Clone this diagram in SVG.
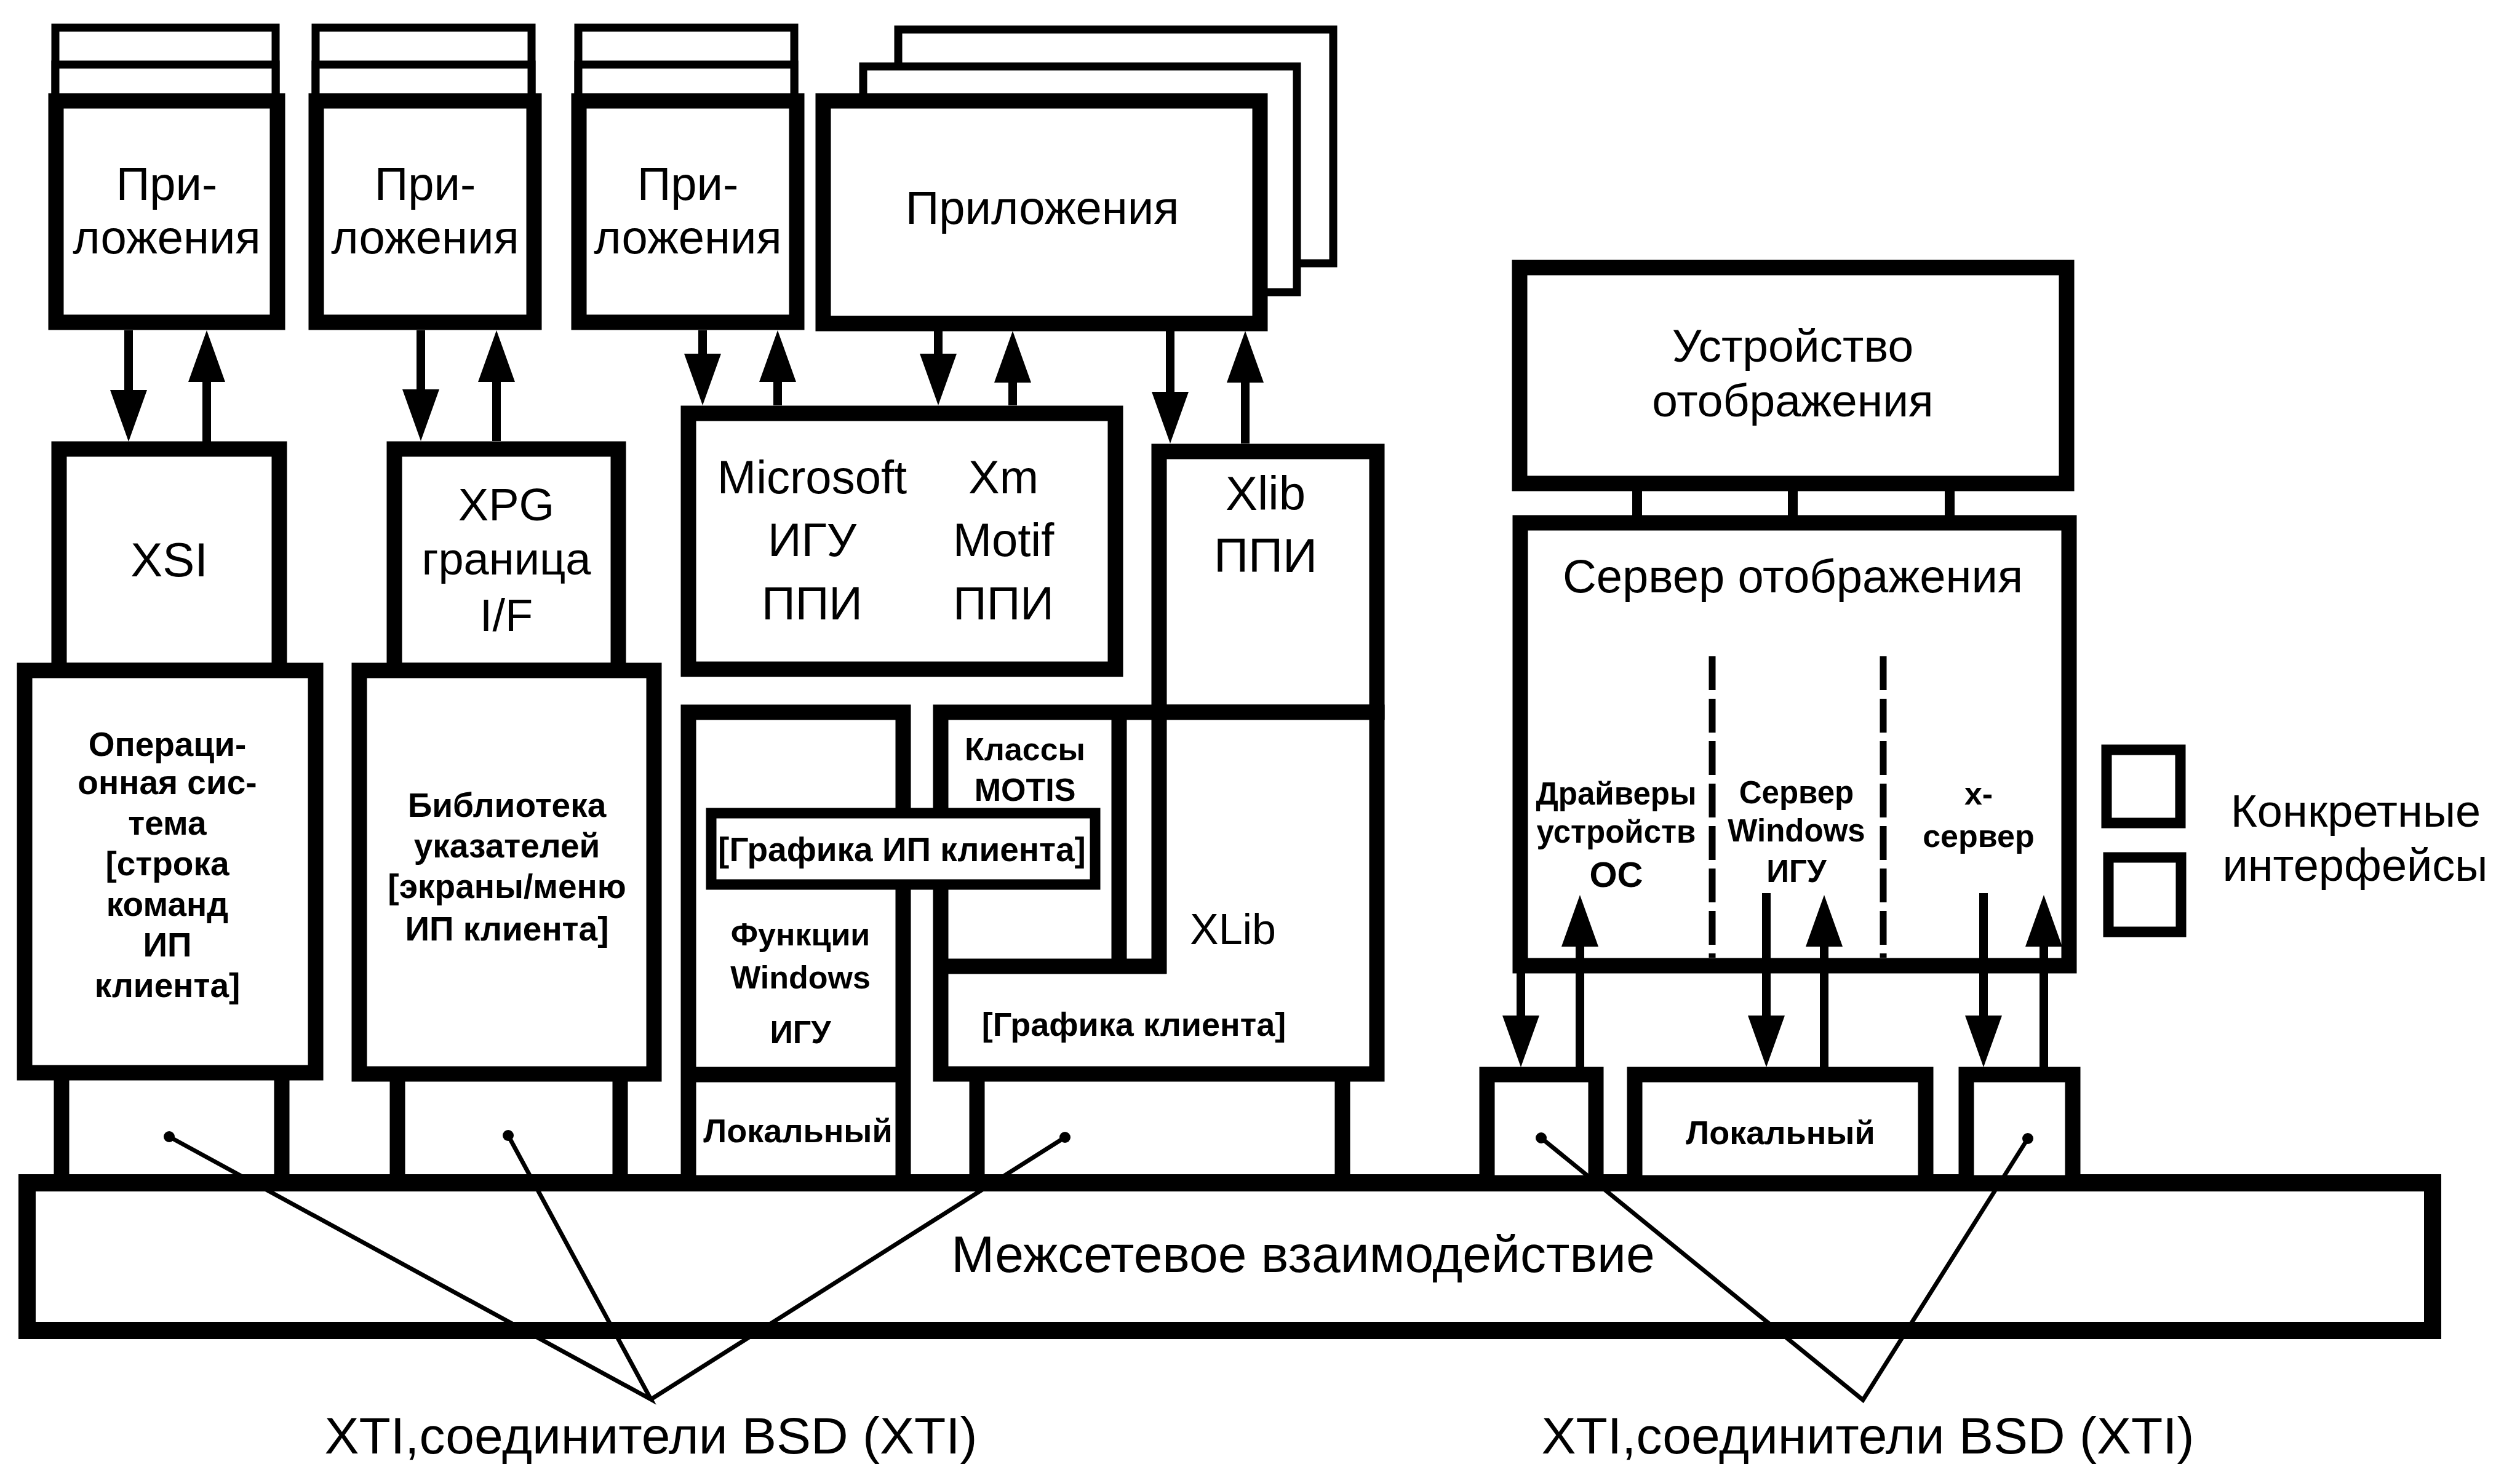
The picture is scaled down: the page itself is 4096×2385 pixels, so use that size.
<svg xmlns="http://www.w3.org/2000/svg" width="4096" height="2385" viewBox="0 0 4096 2385">
<style>
.b{fill:#fff;stroke:#000;stroke-width:25}
.s{fill:#fff;stroke:#000;stroke-width:13}
.ln{fill:none;stroke:#000;stroke-width:25}
.cn{fill:none;stroke:#000;stroke-width:16}
.a{fill:none;stroke:#000;stroke-width:14;marker-end:url(#ah)}
.th{fill:none;stroke:#000;stroke-width:7}
.dash{fill:none;stroke:#000;stroke-width:11;stroke-dasharray:55 14}
.lg{fill:#fff;stroke:#000;stroke-width:17}
text{font-family:"Liberation Sans",Arial,sans-serif;font-size:76px;text-anchor:middle;fill:#000}
.sm{font-size:55px;font-weight:bold}
</style>
<defs>
<marker id="ah" markerUnits="userSpaceOnUse" markerWidth="84" markerHeight="60" refX="44" refY="30" orient="auto">
<path d="M0,0 L84,30 L0,60 Z" fill="#000"/>
</marker>
</defs>
<rect width="4096" height="2385" fill="#fff"/>

<g id="network">
<rect class="b" x="44" y="1923" width="3910" height="240" style="stroke-width:28"/>
<text x="2118" y="2068" style="font-size:84px">Межсетевое взаимодействие</text>
</g>

<g id="app1">
<rect class="s" x="90" y="45" width="358" height="120"/>
<rect class="s" x="90" y="105" width="358" height="60"/>
<rect class="b" x="91" y="164" width="360" height="360"/>
<text x="271" y="325">При-</text>
<text x="271" y="412">ложения</text>
</g>
<g id="app2">
<rect class="s" x="513" y="45" width="351" height="120"/>
<rect class="s" x="513" y="105" width="351" height="60"/>
<rect class="b" x="514" y="164" width="354" height="360"/>
<text x="691" y="325">При-</text>
<text x="691" y="412">ложения</text>
</g>
<g id="app3">
<rect class="s" x="940" y="45" width="351" height="120"/>
<rect class="s" x="940" y="105" width="351" height="60"/>
<rect class="b" x="941" y="164" width="354" height="360"/>
<text x="1118" y="325">При-</text>
<text x="1118" y="412">ложения</text>
</g>
<g id="app4">
<rect class="s" x="1460" y="48" width="707" height="380"/>
<rect class="s" x="1403" y="108" width="705" height="367"/>
<rect class="b" x="1338" y="164" width="710" height="362"/>
<text x="1694" y="364">Приложения</text>
</g>

<g id="xsi">
<rect class="b" x="96" y="730" width="358" height="360"/>
<text x="275" y="937" style="font-size:78px">XSI</text>
</g>
<g id="xpg">
<rect class="b" x="641" y="730" width="364" height="360"/>
<text x="823" y="846" style="font-size:74px">XPG</text>
<text x="823" y="934" style="font-size:74px">граница</text>
<text x="823" y="1026" style="font-size:74px">I/F</text>
</g>
<g id="os">
<line class="ln" x1="100" y1="1744" x2="100" y2="1923"/>
<line class="ln" x1="458" y1="1744" x2="458" y2="1923"/>
<rect class="b" x="40" y="1090" width="473" height="654"/>
<text class="sm" x="272" y="1229">Операци-</text>
<text class="sm" x="272" y="1291">онная сис-</text>
<text class="sm" x="272" y="1357">тема</text>
<text class="sm" x="272" y="1423">[строка</text>
<text class="sm" x="272" y="1489">команд</text>
<text class="sm" x="272" y="1555">ИП</text>
<text class="sm" x="272" y="1621">клиента]</text>
</g>
<g id="lib">
<line class="ln" x1="646" y1="1746" x2="646" y2="1923"/>
<line class="ln" x1="1008" y1="1746" x2="1008" y2="1923"/>
<rect class="b" x="584" y="1090" width="479" height="656"/>
<text class="sm" x="824" y="1328">Библиотека</text>
<text class="sm" x="824" y="1394">указателей</text>
<text class="sm" x="824" y="1460">[экраны/меню</text>
<text class="sm" x="824" y="1529">ИП клиента]</text>
</g>

<g id="ms">
<rect class="b" x="1119" y="672" width="694" height="416"/>
<text x="1320" y="802">Microsoft</text>
<text x="1320" y="904">ИГУ</text>
<text x="1320" y="1007">ППИ</text>
<text x="1631" y="802">Xm</text>
<text x="1631" y="904">Motif</text>
<text x="1631" y="1007">ППИ</text>
</g>
<g id="xlibppi">
<rect class="b" x="1884" y="734" width="354" height="424"/>
<text x="2057" y="829" style="font-size:78px">Xlib</text>
<text x="2057" y="930" style="font-size:78px">ППИ</text>
</g>

<g id="winfunc">
<rect class="b" x="1119" y="1158" width="349" height="765"/>
<line class="ln" x1="1119" y1="1747" x2="1468" y2="1747"/>
<text class="sm" x="1301" y="1537" style="font-size:52px">Функции</text>
<text class="sm" x="1301" y="1607" style="font-size:52px">Windows</text>
<text class="sm" x="1301" y="1696" style="font-size:52px">ИГУ</text>
<text class="sm" x="1297" y="1857" style="font-size:54px">Локальный</text>
</g>

<g id="xlib">
<line class="ln" x1="1588" y1="1746" x2="1588" y2="1923"/>
<line class="ln" x1="2182" y1="1746" x2="2182" y2="1923"/>
<rect class="b" x="1529" y="1158" width="709" height="588"/>
<line class="ln" x1="1819" y1="1158" x2="1819" y2="1571"/>
<line class="ln" x1="1884" y1="1158" x2="1884" y2="1583"/>
<line class="ln" x1="1529" y1="1571" x2="1896" y2="1571"/>
<text class="sm" x="1666" y="1236" style="font-size:52px">Классы</text>
<text class="sm" x="1666" y="1302" style="font-size:52px">MOTIS</text>
<text x="2004" y="1535" style="font-size:70px">XLib</text>
<text class="sm" x="1843" y="1684" style="font-size:54px">[Графика клиента]</text>
</g>

<g id="gfx">
<rect class="lg" x="1156" y="1322" width="624" height="116"/>
<text class="sm" x="1466" y="1400">[Графика ИП клиента]</text>
</g>

<g id="display">
<rect class="b" x="2470" y="435" width="889" height="351"/>
<text x="2914" y="588" style="font-size:75px">Устройство</text>
<text x="2914" y="677" style="font-size:75px">отображения</text>
</g>
<g id="server">
<rect class="b" x="2471" y="850" width="892" height="720"/>
<text x="2914" y="963">Сервер отображения</text>
<line class="dash" x1="2783" y1="1067" x2="2783" y2="1557"/>
<line class="dash" x1="3061" y1="1067" x2="3061" y2="1557"/>
<text class="sm" x="2627" y="1308" style="font-size:51px">Драйверы</text>
<text class="sm" x="2627" y="1370" style="font-size:51px">устройств</text>
<text class="sm" x="2627" y="1442" style="font-size:58px">ОС</text>
<text class="sm" x="2920" y="1306" style="font-size:51px">Сервер</text>
<text class="sm" x="2920" y="1368" style="font-size:51px">Windows</text>
<text class="sm" x="2920" y="1434" style="font-size:51px">ИГУ</text>
<text class="sm" x="3216" y="1308" style="font-size:52px">x-</text>
<text class="sm" x="3216" y="1377" style="font-size:52px">сервер</text>
</g>

<g id="port1"><rect class="b" x="2417" y="1747" width="177" height="176"/></g>
<g id="local2">
<rect class="b" x="2657" y="1747" width="473" height="176"/>
<text class="sm" x="2894" y="1860" style="font-size:54px">Локальный</text>
</g>
<g id="port2"><rect class="b" x="3196" y="1747" width="173" height="176"/></g>

<g id="legend">
<rect class="lg" x="3424" y="1219" width="120" height="119"/>
<rect class="lg" x="3427" y="1394" width="118" height="121"/>
<text x="3829" y="1344" style="font-size:74px">Конкретные</text>
<text x="3828" y="1432" style="font-size:74px">интерфейсы</text>
</g>

<g id="xti-left"><text x="1058" y="2363" style="font-size:84px">XTI,соединители BSD (XTI)</text></g>
<g id="xti-right"><text x="3036" y="2363" style="font-size:84px">XTI,соединители BSD (XTI)</text></g>

<g id="connectors">
<line class="a" x1="209" y1="537" x2="209" y2="678"/>
<line class="a" x1="336" y1="718" x2="336" y2="577"/>
<line class="a" x1="684" y1="537" x2="684" y2="677"/>
<line class="a" x1="807" y1="717" x2="807" y2="577"/>
<line class="a" x1="1142" y1="537" x2="1142" y2="619"/>
<line class="a" x1="1264" y1="659" x2="1264" y2="577"/>
<line class="a" x1="1525" y1="538" x2="1525" y2="619"/>
<line class="a" x1="1646" y1="659" x2="1646" y2="578"/>
<line class="a" x1="1902" y1="538" x2="1902" y2="681"/>
<line class="a" x1="2024" y1="721" x2="2024" y2="578"/>
<line class="cn" x1="2661" y1="786" x2="2661" y2="850"/>
<line class="cn" x1="2914" y1="786" x2="2914" y2="850"/>
<line class="cn" x1="3169" y1="786" x2="3169" y2="850"/>
<line class="a" x1="2472" y1="1570" x2="2472" y2="1695"/>
<line class="a" x1="2568" y1="1735" x2="2568" y2="1495"/>
<line class="a" x1="2871" y1="1452" x2="2871" y2="1695"/>
<line class="a" x1="2965" y1="1735" x2="2965" y2="1495"/>
<line class="a" x1="3224" y1="1452" x2="3224" y2="1695"/>
<line class="a" x1="3322" y1="1735" x2="3322" y2="1495"/>
<polyline class="th" points="275,1848 1058,2275 826,1846"/>
<line class="th" x1="1731" y1="1849" x2="1058" y2="2275"/>
<polyline class="th" points="2505,1850 3028,2276 3296,1851"/>
<circle cx="275" cy="1848" r="9"/>
<circle cx="826" cy="1846" r="9"/>
<circle cx="1731" cy="1849" r="9"/>
<circle cx="2505" cy="1850" r="9"/>
<circle cx="3296" cy="1851" r="9"/>
</g>
</svg>
